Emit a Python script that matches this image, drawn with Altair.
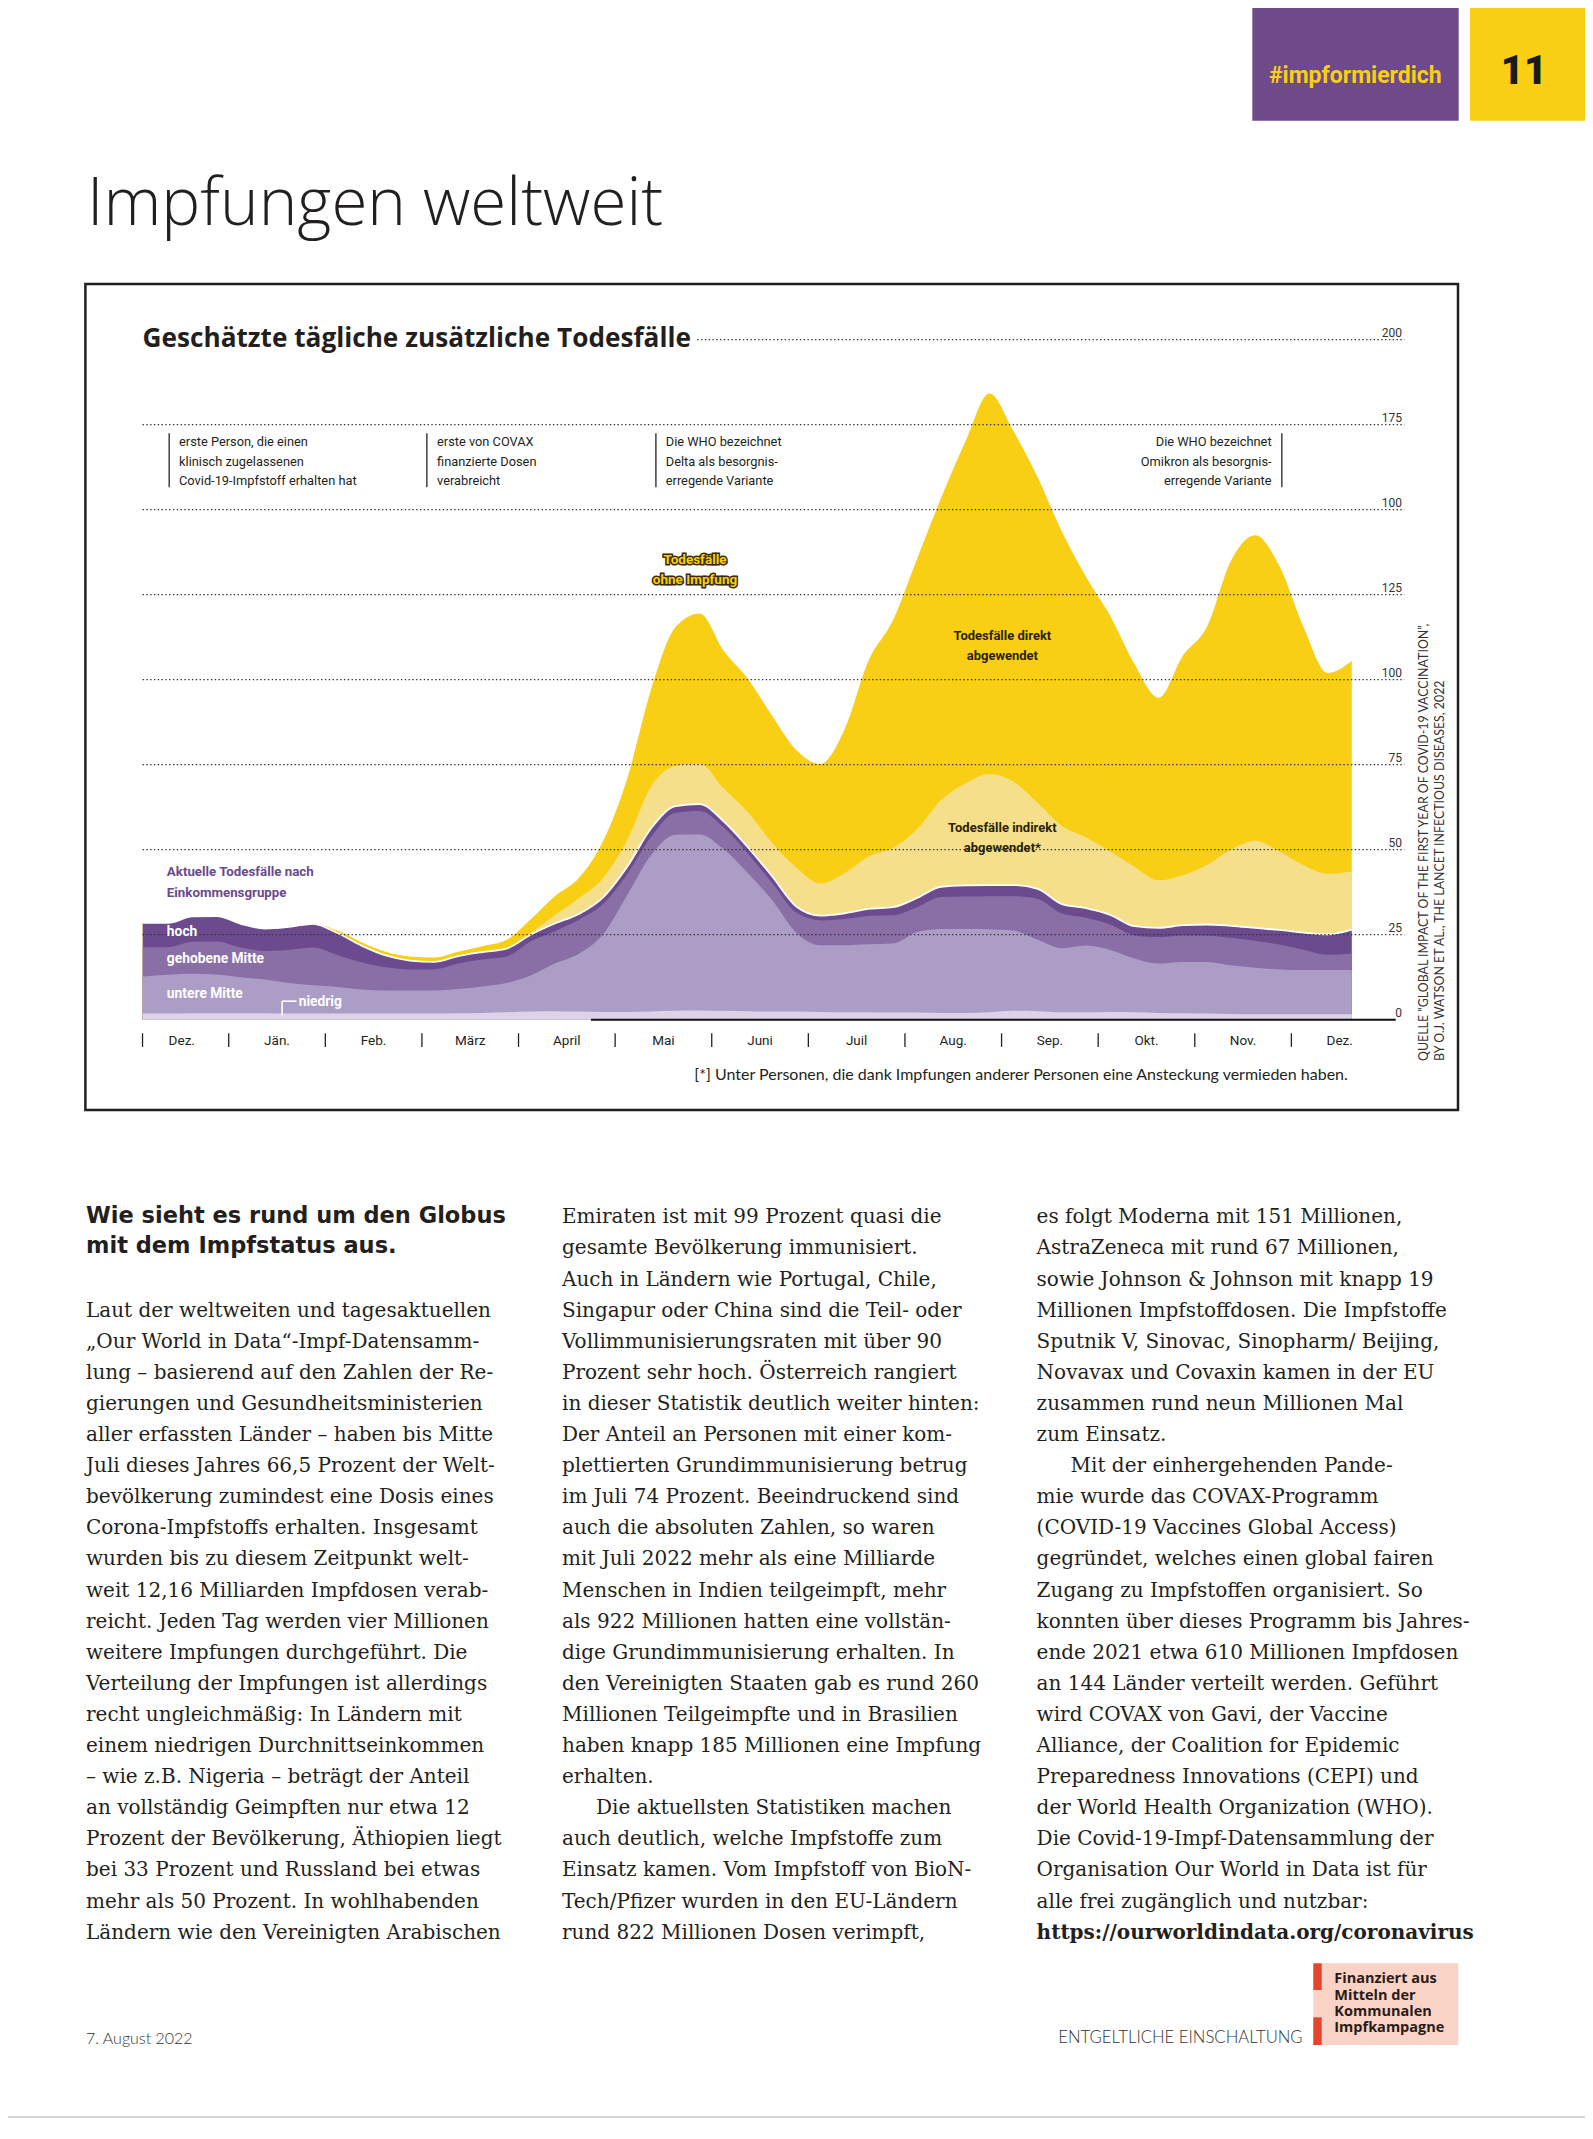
import altair as alt
import pandas as pd

# ---------------- data ----------------
# x position in months since 1 Jan 2021 (negative = December 2020)
months = [-0.89, -0.625, -0.375, -0.125, 0.125, 0.375, 0.625, 0.875, 1.125, 1.375,
          1.625, 1.875, 2.125, 2.375, 2.625, 2.875, 3.125, 3.375, 3.625, 3.875,
          4.125, 4.375, 4.625, 4.875, 5.125, 5.375, 5.625, 5.875, 6.125, 6.375,
          6.625, 6.875, 7.125, 7.375, 7.625, 7.875, 8.125, 8.375, 8.625, 8.875,
          9.125, 9.375, 9.625, 9.875, 10.125, 10.375, 10.625, 10.875, 11.125, 11.375,
          11.625]

# upper boundaries of the stacked bands (estimated daily excess deaths, thousands)
niedrig_top = [1.8, 1.8, 1.9, 1.9, 1.9, 1.9, 1.8, 1.8, 1.8, 1.8, 1.8, 1.8, 1.8, 1.9, 2.0, 2.2,
               2.4, 2.5, 2.4, 2.3, 2.3, 2.4, 2.6, 2.7, 2.6, 2.5, 2.4,
               2.4, 2.3, 2.2, 2.2, 2.1, 2.1, 2.0, 2.0, 2.2, 2.6, 2.5, 2.2,
               2.2, 2.3, 2.2, 2.0, 1.9, 1.8, 1.7, 1.6, 1.6, 1.6, 1.6, 1.6]
untere_top = [12.7, 13.2, 13.5, 13.3, 12.5, 11.8, 10.8, 10.1, 9.6, 8.9, 8.6, 8.6, 8.6, 9.0, 9.8, 10.8,
              13.0, 16.5, 19.4, 25.1, 36.6, 48.5, 54.4, 54.5, 50.1, 43.1, 35.2, 25.6, 21.9, 21.9, 22.2, 22.4,
              25.8, 26.7, 26.7, 26.6, 26.2, 23.5, 21.0, 21.8, 20.5, 18.0, 16.5, 17.0, 17.0, 16.0, 15.3,
              14.8, 14.6, 14.6, 14.6]
gehobene_top = [21.3, 21.3, 22.9, 23.0, 21.2, 20.2, 20.5, 21.2, 19.0, 16.8, 15.4, 14.8, 14.8, 16.5, 17.7, 18.6,
                23.0, 26.0, 29.4, 34.0, 42.8, 53.9, 60.9, 61.4, 56.5, 48.8, 40.2, 31.5, 29.2, 29.6, 30.5, 30.7,
                33.1, 36.1, 36.2, 36.3, 36.3, 35.5, 31.2, 30.0, 28.0, 24.8, 24.3, 24.8, 24.7, 24.1, 23.2,
                22.1, 20.6, 19.1, 19.5]
hoch_top = [28.5, 28.5, 30.4, 30.5, 28.2, 26.8, 27.3, 28.2, 25.5, 21.8, 18.9, 17.4, 17.0, 18.7, 19.9, 20.9,
            25.0, 28.3, 31.1, 36.0, 45.0, 56.4, 62.8, 63.4, 58.3, 50.7, 42.2, 33.3, 30.6, 31.3, 32.6, 33.1,
            35.8, 39.1, 39.5, 39.6, 39.6, 38.5, 34.0, 32.8, 30.8, 27.5, 27.0, 27.8, 28.0, 27.6, 27.0,
            26.4, 25.6, 25.1, 26.5]
indirekt_top = [28.5, 28.5, 30.4, 30.5, 28.2, 26.8, 27.3, 28.2, 25.5, 21.8, 18.9, 17.4, 17.0, 18.7, 19.9, 21.0,
                25.5, 30.7, 35.7, 41.7, 52.8, 68.7, 74.6, 75.3, 68.0, 61.0, 52.0, 44.8, 40.1, 43.1, 48.0, 50.5,
                56.0, 64.6, 69.5, 72.3, 70.0, 63.7, 57.0, 53.6, 49.5, 45.0, 41.0, 42.5, 45.5, 50.0, 52.6,
                49.5, 45.5, 42.9, 43.6]
ohne_impfung = [28.5, 28.5, 30.4, 30.5, 28.2, 26.8, 27.3, 28.2, 26.2, 22.8, 20.0, 18.6, 18.3, 20.0, 21.6, 23.5,
                29.5, 36.3, 41.7, 52.5, 70.9, 97.4, 115.5, 119.5, 108.5, 100.2, 89.4, 79.3, 75.2, 85.4, 105.7, 117.4,
                135.5, 153.5, 170.0, 184.2, 173.0, 159.5, 143.5, 130.2, 118.7, 104.6, 94.7, 107.0, 115.5, 135.0, 142.5,
                133.5, 115.5, 102.0, 105.5]

# axis content
y_ticks = [0, 25, 50, 75, 100, 125, 150, 175, 200]
y_tick_labels = ["0", "25", "50", "75", "100", "125", "100", "175", "200"]   # as printed
month_bounds = [-0.892, 0, 1, 2, 3, 4, 5, 6, 7, 8, 9, 10, 11]
month_centers = [-0.486, 0.5, 1.5, 2.5, 3.5, 4.5, 5.5, 6.5, 7.5, 8.5, 9.5, 10.5, 11.5]
month_labels = ["Dez.", "Jän.", "Feb.", "März", "April", "Mai", "Juni", "Juil", "Aug.", "Sep.",
                "Okt.", "Nov.", "Dez."]

# annotations (data coordinates: month, value)
event_bar_m = [-0.616, 2.051, 4.422, 10.901]
event_left_m = [-0.514, 2.157, 4.524]
event_right_m = 10.795
event_line_v = [169.9, 164.0, 158.3]
event_texts_left = [
    ["erste Person, die einen", "klinisch zugelassenen", "Covid-19-Impfstoff erhalten hat"],
    ["erste von COVAX", "finanzierte Dosen", "verabreicht"],
    ["Die WHO bezeichnet", "Delta als besorgnis-", "erregende Variante"],
]
event_text_right = ["Die WHO bezeichnet", "Omikron als besorgnis-", "erregende Variante"]

# body text
col1_head = ["Wie sieht es rund um den Globus", "mit dem Impfstatus aus."]
col1 = [
    "Laut der weltweiten und tagesaktuellen",
    "„Our World in Data“-Impf-Datensamm-",
    "lung – basierend auf den Zahlen der Re-",
    "gierungen und Gesundheitsministerien",
    "aller erfassten Länder – haben bis Mitte",
    "Juli dieses Jahres 66,5 Prozent der Welt-",
    "bevölkerung zumindest eine Dosis eines",
    "Corona-Impfstoffs erhalten. Insgesamt",
    "wurden bis zu diesem Zeitpunkt welt-",
    "weit 12,16 Milliarden Impfdosen verab-",
    "reicht. Jeden Tag werden vier Millionen",
    "weitere Impfungen durchgeführt. Die",
    "Verteilung der Impfungen ist allerdings",
    "recht ungleichmäßig: In Ländern mit",
    "einem niedrigen Durchnittseinkommen",
    "– wie z.B. Nigeria – beträgt der Anteil",
    "an vollständig Geimpften nur etwa 12",
    "Prozent der Bevölkerung, Äthiopien liegt",
    "bei 33 Prozent und Russland bei etwas",
    "mehr als 50 Prozent. In wohlhabenden",
    "Ländern wie den Vereinigten Arabischen",
]
col2a = [
    "Emiraten ist mit 99 Prozent quasi die",
    "gesamte Bevölkerung immunisiert.",
    "Auch in Ländern wie Portugal, Chile,",
    "Singapur oder China sind die Teil- oder",
    "Vollimmunisierungsraten mit über 90",
    "Prozent sehr hoch. Österreich rangiert",
    "in dieser Statistik deutlich weiter hinten:",
    "Der Anteil an Personen mit einer kom-",
    "plettierten Grundimmunisierung betrug",
    "im Juli 74 Prozent. Beeindruckend sind",
    "auch die absoluten Zahlen, so waren",
    "mit Juli 2022 mehr als eine Milliarde",
    "Menschen in Indien teilgeimpft, mehr",
    "als 922 Millionen hatten eine vollstän-",
    "dige Grundimmunisierung erhalten. In",
    "den Vereinigten Staaten gab es rund 260",
    "Millionen Teilgeimpfte und in Brasilien",
    "haben knapp 185 Millionen eine Impfung",
    "erhalten.",
]
col2_indent = "Die aktuellsten Statistiken machen"
col2b = [
    "auch deutlich, welche Impfstoffe zum",
    "Einsatz kamen. Vom Impfstoff von BioN-",
    "Tech/Pfizer wurden in den EU-Ländern",
    "rund 822 Millionen Dosen verimpft,",
]
col3a = [
    "es folgt Moderna mit 151 Millionen,",
    "AstraZeneca mit rund 67 Millionen,",
    "sowie Johnson & Johnson mit knapp 19",
    "Millionen Impfstoffdosen. Die Impfstoffe",
    "Sputnik V, Sinovac, Sinopharm/ Beijing,",
    "Novavax und Covaxin kamen in der EU",
    "zusammen rund neun Millionen Mal",
    "zum Einsatz.",
]
col3_indent = "Mit der einhergehenden Pande-"
col3b = [
    "mie wurde das COVAX-Programm",
    "(COVID-19 Vaccines Global Access)",
    "gegründet, welches einen global fairen",
    "Zugang zu Impfstoffen organisiert. So",
    "konnten über dieses Programm bis Jahres-",
    "ende 2021 etwa 610 Millionen Impfdosen",
    "an 144 Länder verteilt werden. Geführt",
    "wird COVAX von Gavi, der Vaccine",
    "Alliance, der Coalition for Epidemic",
    "Preparedness Innovations (CEPI) und",
    "der World Health Organization (WHO).",
    "Die Covid-19-Impf-Datensammlung der",
    "Organisation Our World in Data ist für",
    "alle frei zugänglich und nutzbar:",
]
col3_link = "https://ourworldindata.org/coronavirus"

# ---------------- styles ----------------
YELLOW = "#F8CF14"
PALE = "#F6DF8B"
PURPLE = "#6B4B8E"
MID = "#8A6FA6"
LIGHT = "#AC9DC7"
LOWEST = "#DCD3E8"
INK = "#231f20"
COND = "Roboto, Liberation Sans, sans-serif"
SERIF = "DejaVu Serif, Liberation Serif, serif"
SANS = "Lato, Open Sans, sans-serif"

W, H = 1577, 2123
xs = alt.Scale(domain=[0, 12], range=[220.7, 1380.0], nice=False, zero=False)
ys = alt.Scale(domain=[0, 200], range=[1011.7, 331.7], nice=False, zero=False)


def X(f):
    return alt.X(f, scale=xs, axis=None)


def Y(f):
    return alt.Y(f, scale=ys, axis=None, stack=None)


one = pd.DataFrame({"a": [0]})


def ptext(x, y, text, size, font, weight="normal", color=INK, align="left",
          baseline="alphabetic", angle=0, lh=None):
    props = dict(fontSize=size, font=font, fontWeight=weight, color=color,
                 align=align, baseline=baseline, angle=angle)
    if lh is not None:
        props["lineHeight"] = lh
    return alt.Chart(one).mark_text(**props).encode(
        x=alt.value(x), y=alt.value(y), text=alt.value(text))


def prect(x0, y0, x1, y1, **props):
    return alt.Chart(one).mark_rect(**props).encode(
        x=alt.value(x0), x2=alt.value(x1), y=alt.value(y0), y2=alt.value(y1))


layers = []

# ---------------- page furniture ----------------
layers.append(prect(1244.3, 0, 1450.7, 112.7, color="#6E4A8A"))
layers.append(prect(1462, 0, 1577, 112.7, color=YELLOW))
layers.append(ptext(1347.3, 74.5, "#impformierdich", 23, COND, weight="bold", color=YELLOW, align="center"))
layers.append(ptext(1516, 75.5, "11", 40, "Roboto, Inter, sans-serif", weight=900, color="#1a1a1a", align="center"))
layers.append(ptext(79, 217, "Impfungen weltweit", 65.5, "Open Sans, Lato, sans-serif", weight=300))

# chart frame
layers.append(prect(77.4, 276, 1450, 1102, fill="white", fillOpacity=0, stroke=INK, strokeWidth=2.5))

# ---------------- stacked areas ----------------
df = pd.DataFrame({
    "m": months, "N": niedrig_top, "U": untere_top, "G": gehobene_top,
    "P": hoch_top, "I": indirekt_top, "T": ohne_impfung,
})
df["base"] = 0.0
for col, colr in [("T", YELLOW), ("I", PALE), ("P", PURPLE), ("G", MID), ("U", LIGHT), ("N", LOWEST)]:
    layers.append(alt.Chart(df).mark_area(color=colr, interpolate="monotone").encode(
        x=X("m:Q"), y=Y(f"{col}:Q"), y2="base:Q"))
layers.append(alt.Chart(df).mark_line(color="white", strokeWidth=1.8, interpolate="monotone").encode(
    x=X("m:Q"), y=Y("P:Q")))

# ---------------- grid, axis ----------------
grid_df = pd.DataFrame({
    "v": [25, 50, 75, 100, 125, 150, 175, 200],
    "m0": [-0.892] * 7 + [4.85],
    "m1": [12.17] * 8,
})
layers.append(alt.Chart(grid_df).mark_rule(color="#333", strokeDash=[1.4, 2.4], strokeWidth=1.3).encode(
    x=X("m0:Q"), x2="m1:Q", y=Y("v:Q")))
base_df = pd.DataFrame({"m0": [3.75], "m1": [12.08], "v": [0]})
layers.append(alt.Chart(base_df).mark_rule(color="#111", strokeWidth=2).encode(
    x=X("m0:Q"), x2="m1:Q", y=Y("v:Q")))

ylab_df = pd.DataFrame({"v": y_ticks, "t": y_tick_labels, "m": [12.146] * len(y_ticks)})
layers.append(alt.Chart(ylab_df).mark_text(align="right", baseline="alphabetic", dy=-3, font=COND,
                                           fontSize=12, color="#333").encode(
    x=X("m:Q"), y=Y("v:Q"), text="t:N"))

tick_df = pd.DataFrame({"m": month_bounds, "v0": [-4.0] * 13, "v1": [-8.0] * 13})
layers.append(alt.Chart(tick_df).mark_rule(color="#222", strokeWidth=1.3).encode(
    x=X("m:Q"), y=Y("v0:Q"), y2="v1:Q"))
mlab_df = pd.DataFrame({"m": month_centers, "t": month_labels, "v": [-6.2] * 13})
layers.append(alt.Chart(mlab_df).mark_text(align="center", baseline="middle", font=COND,
                                           fontSize=13.5, color=INK).encode(
    x=X("m:Q"), y=Y("v:Q"), text="t:N"))

# ---------------- event annotations ----------------
bar_df = pd.DataFrame({"m": event_bar_m, "v0": [172.5] * 4, "v1": [156.6] * 4})
layers.append(alt.Chart(bar_df).mark_rule(color="#333", strokeWidth=1.4).encode(
    x=X("m:Q"), y=Y("v0:Q"), y2="v1:Q"))
rows = []
for mm, lines in zip(event_left_m, event_texts_left):
    for vv, tt in zip(event_line_v, lines):
        rows.append({"m": mm, "v": vv, "t": tt})
layers.append(alt.Chart(pd.DataFrame(rows)).mark_text(align="left", baseline="middle", font=COND,
                                                      fontSize=12.8, color=INK).encode(
    x=X("m:Q"), y=Y("v:Q"), text="t:N"))
rrows = pd.DataFrame({"m": [event_right_m] * 3, "v": event_line_v, "t": event_text_right})
layers.append(alt.Chart(rrows).mark_text(align="right", baseline="middle", font=COND,
                                         fontSize=12.8, color=INK).encode(
    x=X("m:Q"), y=Y("v:Q"), text="t:N"))

# ---------------- series labels ----------------
ohne_df = pd.DataFrame({"m": [4.827, 4.827], "v": [135.2, 129.3], "t": ["Todesfälle", "ohne Impfung"]})
layers.append(alt.Chart(ohne_df).mark_text(align="center", baseline="middle", font=COND, fontSize=13.5,
                                           fontWeight="bold", fill="#3a2a05", stroke="#3a2a05",
                                           strokeWidth=3).encode(
    x=X("m:Q"), y=Y("v:Q"), text="t:N"))
layers.append(alt.Chart(ohne_df).mark_text(align="center", baseline="middle", font=COND, fontSize=13.5,
                                           fontWeight="bold", color=YELLOW).encode(
    x=X("m:Q"), y=Y("v:Q"), text="t:N"))

lab_df = pd.DataFrame({
    "m": [8.008, 8.008, 8.008, 8.008],
    "v": [112.8, 106.9, 56.5, 50.6],
    "t": ["Todesfälle direkt", "abgewendet", "Todesfälle indirekt", "abgewendet*"],
})
layers.append(alt.Chart(lab_df).mark_text(align="center", baseline="middle", font=COND, fontSize=13,
                                          fontWeight="bold", color="#2b1f05").encode(
    x=X("m:Q"), y=Y("v:Q"), text="t:N"))

inc_df = pd.DataFrame({"m": [-0.64, -0.64], "v": [43.3, 37.4],
                       "t": ["Aktuelle Todesfälle nach", "Einkommensgruppe"]})
layers.append(alt.Chart(inc_df).mark_text(align="left", baseline="middle", font=COND, fontSize=13.3,
                                          fontWeight="bold", color="#6A4A8C").encode(
    x=X("m:Q"), y=Y("v:Q"), text="t:N"))
grp_df = pd.DataFrame({"m": [-0.64, -0.64, -0.64, 0.724], "v": [25.7, 17.8, 7.5, 5.3],
                       "t": ["hoch", "gehobene Mitte", "untere Mitte", "niedrig"]})
layers.append(alt.Chart(grp_df).mark_text(align="left", baseline="middle", font=COND, fontSize=13.8,
                                          fontWeight="bold", color="white").encode(
    x=X("m:Q"), y=Y("v:Q"), text="t:N"))
br_df = pd.DataFrame({"m0": [0.553, 0.553], "m1": [0.553, 0.702], "v0": [1.3, 5.45], "v1": [5.45, 5.45]})
layers.append(alt.Chart(br_df).mark_rule(color="white", strokeWidth=1.6).encode(
    x=X("m0:Q"), x2="m1:Q", y=Y("v0:Q"), y2="v1:Q"))

# footnote
fn_df = pd.DataFrame({"m": [11.584], "v": [-16.25],
                      "t": ["[*] Unter Personen, die dank Impfungen anderer Personen eine Ansteckung vermieden haben."]})
layers.append(alt.Chart(fn_df).mark_text(align="right", baseline="middle", font=SANS,
                                         fontSize=16, color=INK).encode(
    x=X("m:Q"), y=Y("v:Q"), text="t:N"))

# chart title and source
layers.append(ptext(134.5, 338.7, "Geschätzte tägliche zusätzliche Todesfälle", 26.2, "Open Sans, Lato, sans-serif",
                    weight="bold"))
layers.append(ptext(1416, 1053, "QUELLE “GLOBAL IMPACT OF THE FIRST YEAR OF COVID-19 VACCINATION”,", 12.4,
                    SANS, color="#333", baseline="middle", angle=270))
layers.append(ptext(1432, 1053, "BY O.J. WATSON ET AL., THE LANCET INFECTIOUS DISEASES, 2022", 12.4,
                    SANS, color="#333", baseline="middle", angle=270))

# ---------------- article text ----------------
LH = 31.1
layers.append(ptext(78, 1215.3, col1_head, 22.5, "DejaVu Sans, Inter, sans-serif", weight="bold", lh=30))
layers.append(ptext(78, 1308.7, col1, 20, SERIF, lh=LH))
y2 = 1215.4
layers.append(ptext(554, y2, col2a, 20, SERIF, lh=LH))
layers.append(ptext(588, y2 + LH * len(col2a), col2_indent, 20, SERIF))
layers.append(ptext(554, y2 + LH * (len(col2a) + 1), col2b, 20, SERIF, lh=LH))
layers.append(ptext(1028.6, y2, col3a, 20, SERIF, lh=LH))
layers.append(ptext(1062.6, y2 + LH * len(col3a), col3_indent, 20, SERIF))
layers.append(ptext(1028.6, y2 + LH * (len(col3a) + 1), col3b, 20, SERIF, lh=LH))
layers.append(ptext(1028.6, y2 + LH * (len(col3a) + 1 + len(col3b)), col3_link, 20, SERIF, weight="bold"))

# ---------------- footer ----------------
layers.append(ptext(78, 2035.5, "7. August 2022", 16, SANS, weight=300, color="#333"))
layers.append(ptext(1050.3, 2035.3, "ENTGELTLICHE EINSCHALTUNG", 16.7, SANS, weight=300, color="#333"))
layers.append(prect(1305.3, 1955.3, 1450.3, 2037, color="#F9D3C6"))
layers.append(prect(1305.3, 1955.3, 1313.7, 1982, color="#E5452E"))
layers.append(prect(1305.3, 2009.3, 1313.7, 2037, color="#E5452E"))
layers.append(ptext(1326.3, 1975.3, ["Finanziert aus", "Mitteln der", "Kommunalen", "Impfkampagne"], 14.5,
                    "Open Sans, Lato, sans-serif", weight="bold", color="#2b1b17", lh=16.3))
layers.append(alt.Chart(one).mark_rule(color="#aaa", strokeWidth=1).encode(
    x=alt.value(0), x2=alt.value(W), y=alt.value(2109)))

chart = alt.layer(*layers).properties(
    width=W, height=H, padding=0, autosize=alt.AutoSizeParams(type="none")
).configure_view(stroke=None)

chart.save("out.html", embed_options={"renderer": "svg", "actions": False})
